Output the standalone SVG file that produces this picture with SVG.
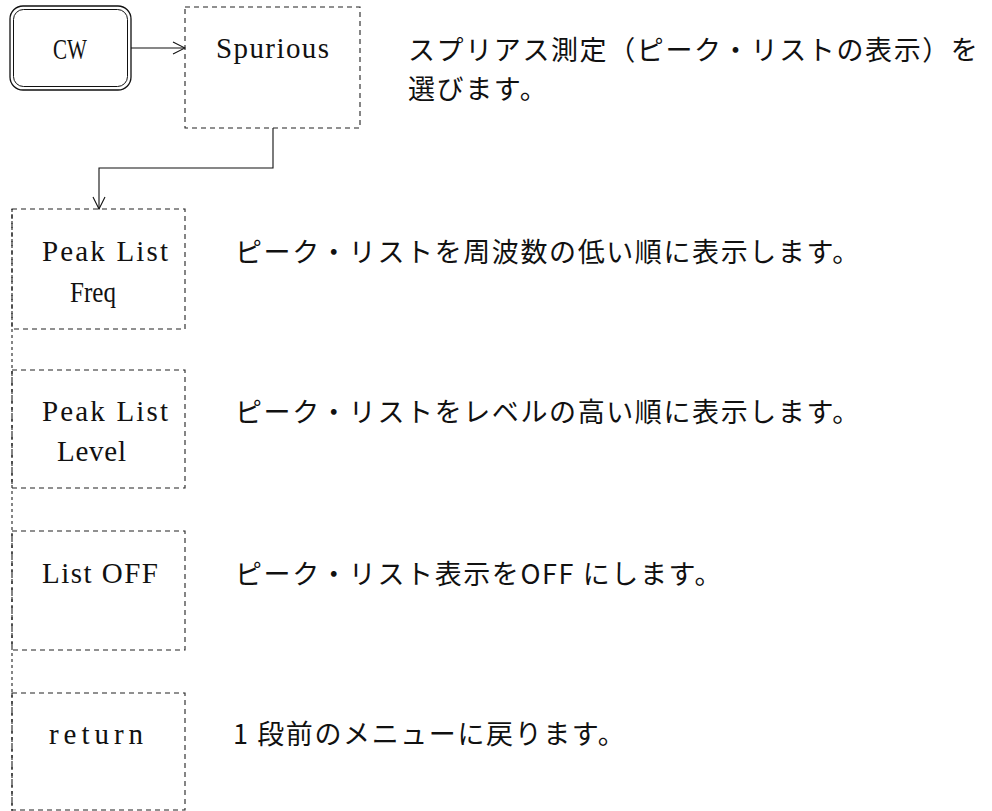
<svg xmlns="http://www.w3.org/2000/svg" width="992" height="811" viewBox="0 0 992 811">
<defs>
<style>
.bg{fill:#ffffff}
.key{fill:none;stroke:#111;stroke-width:1.3}
.keyin{fill:none;stroke:#111;stroke-width:1}
.box{fill:none;stroke:#222;stroke-width:1.1;stroke-dasharray:5 4}
.rail{fill:none;stroke:#222;stroke-width:1.1;stroke-dasharray:3 3}
.conn{fill:none;stroke:#111;stroke-width:1.1}
.lbl{font-family:"Liberation Serif","DejaVu Serif",serif;font-size:29px;fill:#111}
.desc{font-family:"Noto Sans CJK JP","Noto Sans CJK SC",sans-serif;font-size:27px;letter-spacing:1.6px;fill:#111}
</style>
<marker id="chev" viewBox="0 0 14 14" refX="13" refY="7" markerWidth="14" markerHeight="14" markerUnits="userSpaceOnUse" orient="auto">
<path d="M1,1 L13,7 L1,13" fill="none" stroke="#111" stroke-width="1.1"/>
</marker>
</defs>
<rect class="bg" x="0" y="0" width="992" height="811"/>

<g id="connectors">
<line class="conn" x1="131" y1="48" x2="185" y2="48" marker-end="url(#chev)"/>
<polyline class="conn" points="273,128 273,168 99,168 99,209" marker-end="url(#chev)"/>
</g>

<g id="left-rail">
<line class="rail" x1="12" y1="209" x2="12" y2="811"/>
</g>

<g id="node-cw">
<rect class="key" x="10" y="6" width="121" height="84" rx="13"/>
<rect class="keyin" x="13.5" y="9.5" width="114" height="77" rx="10"/>
<text class="lbl" x="53" y="59" textLength="34" lengthAdjust="spacingAndGlyphs">CW</text>
</g>

<g id="node-spurious">
<rect class="box" x="185" y="7" width="175" height="121"/>
<text class="lbl" x="216" y="58" textLength="113" lengthAdjust="spacing">Spurious</text>
<text class="desc" x="408" y="60" letter-spacing="2">スプリアス測定（ピーク・リストの表示）を</text>
<text class="desc" x="408" y="99">選びます。</text>
</g>

<g id="node-peak-freq">
<rect class="box" x="12" y="209" width="173" height="120"/>
<text class="lbl" x="42" y="261" textLength="126" lengthAdjust="spacing">Peak List</text>
<text class="lbl" x="70" y="302" textLength="46" lengthAdjust="spacingAndGlyphs">Freq</text>
<text class="desc" x="235" y="262">ピーク・リストを周波数の低い順に表示します。</text>
</g>

<g id="node-peak-level">
<rect class="box" x="12" y="370" width="173" height="118"/>
<text class="lbl" x="42" y="421" textLength="126" lengthAdjust="spacing">Peak List</text>
<text class="lbl" x="57" y="461" textLength="69" lengthAdjust="spacing">Level</text>
<text class="desc" x="235" y="422">ピーク・リストをレベルの高い順に表示します。</text>
</g>

<g id="node-list-off">
<rect class="box" x="12" y="531" width="173" height="119"/>
<text class="lbl" x="42" y="583" textLength="116" lengthAdjust="spacing">List OFF</text>
<text class="desc" x="235" y="584">ピーク・リスト表示をOFF にします。</text>
</g>

<g id="node-return">
<rect class="box" x="12" y="693" width="173" height="117"/>
<text class="lbl" x="49" y="744" textLength="94" lengthAdjust="spacing">return</text>
<text class="desc" x="233" y="744">1 段前のメニューに戻ります。</text>
</g>
</svg>
